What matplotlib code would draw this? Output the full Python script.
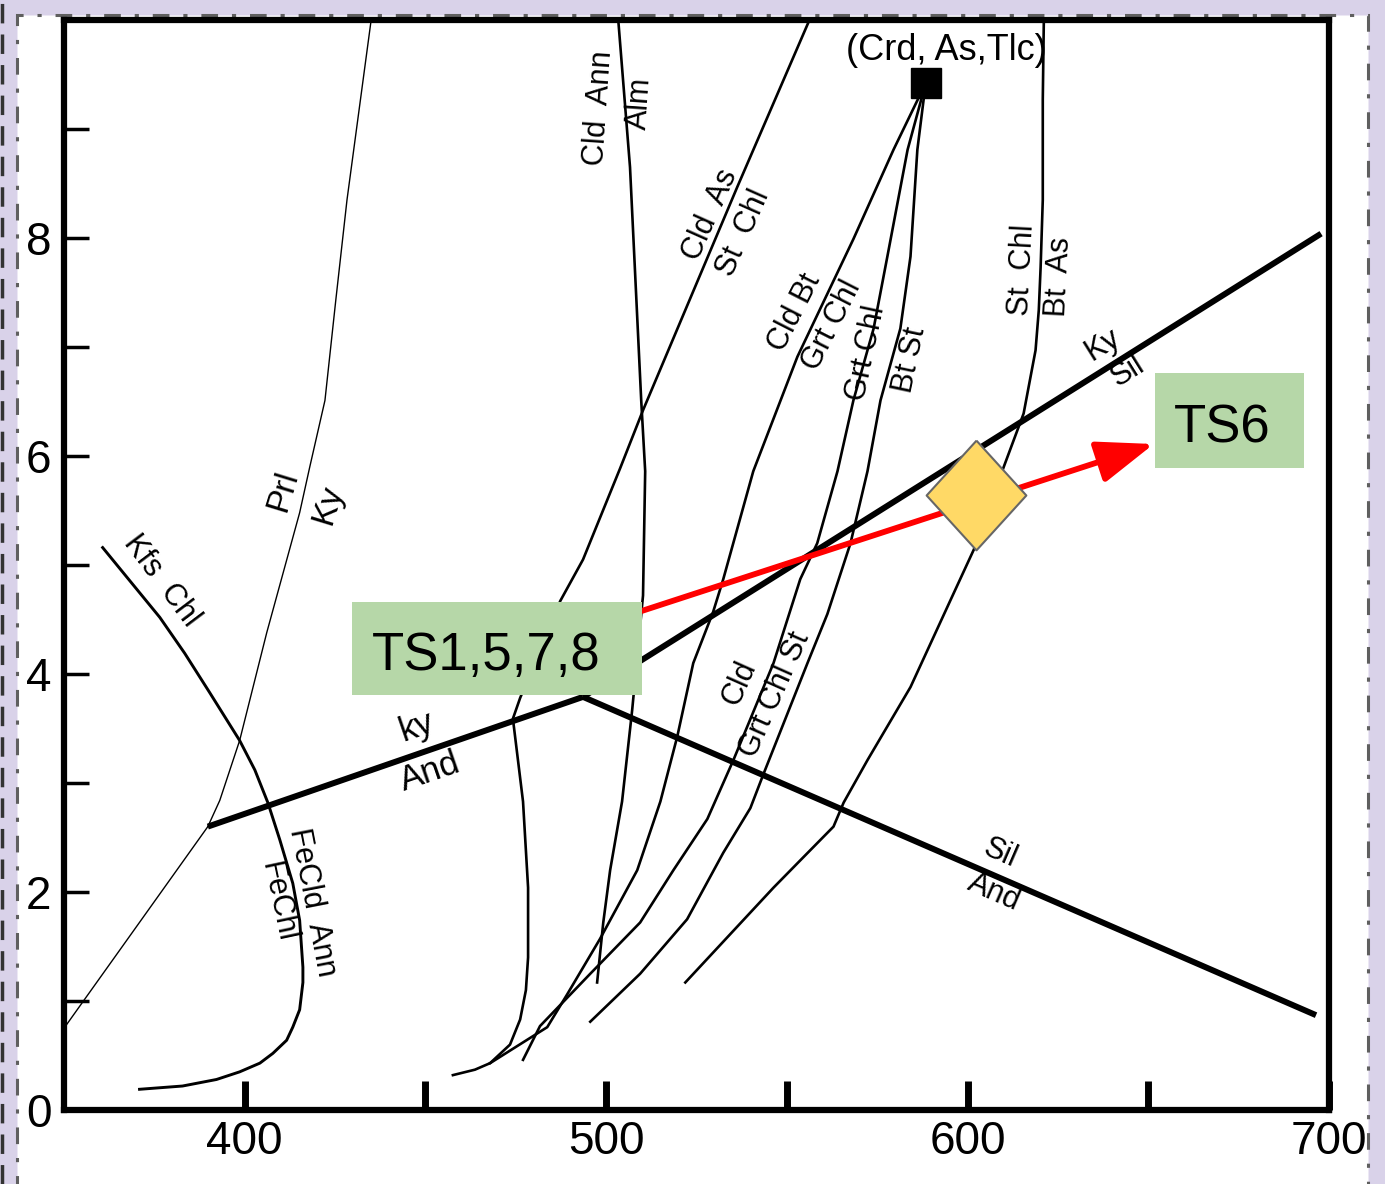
import numpy as np
import matplotlib.pyplot as plt
from matplotlib.patches import Rectangle
from matplotlib.lines import Line2D

plt.rcParams['font.family'] = ['Liberation Sans', 'DejaVu Sans']
plt.rcParams['lines.scale_dashes'] = False

# ---- reaction curves, T (deg C) vs P (kbar) ----
# Al2SiO5 triple point system
ky_and_T = [389.8, 493.6]
ky_and_P = [2.60, 3.79]
ky_sil_T = [493.6, 697.8]
ky_sil_P = [3.79, 8.04]
sil_and_T = [493.6, 696.4]
sil_and_P = [3.79, 0.87]

# pyrophyllite breakdown (thin)
prl_ky_T = [389.8, 393.1, 398.6, 406.1, 415.2, 418.0, 422.2, 425.2, 428.3, 434.9]
prl_ky_P = [2.60, 2.84, 3.39, 4.38, 5.48, 5.90, 6.51, 7.43, 8.35, 9.98]
prl_and_T = [350.0, 389.8]
prl_and_P = [0.75, 2.60]

# Kfs Chl / FeCld Ann / FeChl
kfs_T = [360.7, 368.1, 376.5, 383.4, 390.3, 398.6, 402.8, 406.4, 409.7, 413.3, 415.2, 416.1,
         416.1, 415.2, 413.3, 411.6, 407.8, 404.2, 398.6, 392.2, 382.8, 370.9]
kfs_P = [5.16, 4.86, 4.52, 4.19, 3.83, 3.39, 3.12, 2.82, 2.48, 2.08, 1.74, 1.31,
         1.17, 0.92, 0.76, 0.64, 0.52, 0.43, 0.35, 0.28, 0.22, 0.19]

# Cld Ann / Alm
cld_ann_T = [503.3, 506.6, 509.7, 510.8, 510.2, 507.2, 504.4, 501.1, 499.2, 497.5]
cld_ann_P = [10.02, 8.65, 6.51, 5.86, 4.72, 3.67, 2.83, 2.20, 1.72, 1.17]

# Cld As / St Chl
cld_as_T = [556.5, 536.3, 510.2, 503.9, 493.6, 487.3, 476.2, 474.2, 477.0, 478.4, 478.4, 477.8,
            476.2, 473.4, 467.9, 463.7, 457.6]
cld_as_P = [10.02, 8.47, 6.42, 5.89, 5.05, 4.67, 3.78, 3.59, 2.83, 2.04, 1.40, 1.10,
            0.83, 0.60, 0.43, 0.37, 0.32]

# invariant point (Crd, As, Tlc)
inv_T = 588.4
inv_P = 9.42

# three curves leaving the invariant point
cld_bt_T = [588.4, 579.5, 568.4, 552.9, 540.7, 532.4, 529.6, 524.1, 519.7, 515.0, 508.6, 498.3, 489.2, 483.7, 467.9]
cld_bt_P = [9.42, 8.81, 7.99, 6.91, 5.86, 4.87, 4.57, 4.10, 3.43, 2.83, 2.20, 1.57, 1.06, 0.76, 0.43]

grt_chl_T = [588.4, 583.4, 577.8, 574.0, 568.4, 564.0, 558.4, 553.7, 546.3, 535.2, 528.0, 518.6, 509.4, 495.6, 481.7, 477.0]
grt_chl_P = [9.42, 8.81, 7.83, 7.17, 6.51, 5.86, 5.20, 4.87, 4.10, 3.21, 2.67, 2.20, 1.72, 1.25, 0.77, 0.46]

bt_st_T = [588.4, 586.1, 584.2, 581.4, 575.9, 572.3, 567.6, 561.2, 555.7, 543.5, 539.9, 532.4, 522.4, 509.4, 495.6]
bt_st_P = [9.42, 8.81, 7.83, 7.17, 6.51, 5.86, 5.20, 4.55, 4.10, 3.08, 2.77, 2.36, 1.75, 1.25, 0.81]

# St Chl / Bt As
st_chl_T = [621.1, 620.8, 620.8, 620.2, 619.7, 618.8, 615.5, 610.0, 601.7, 595.3, 584.2, 572.3, 565.7, 562.9, 553.7, 546.3, 521.9]
st_chl_P = [10.02, 9.27, 8.35, 7.73, 7.34, 6.97, 6.39, 5.90, 5.14, 4.68, 3.88, 3.21, 2.82, 2.60, 2.29, 2.04, 1.17]

# sample path
path_start = (510.0, 4.58)
path_end = (651.5, 6.11)
ts6_T = 602.2
ts6_P = 5.64

# axis ticks
xtick_vals = [400, 450, 500, 550, 600, 650, 700]
xtick_labels = ['400', '', '500', '', '600', '', '700']
ytick_vals = list(range(0, 10))
ytick_labels = ['0', '', '2', '', '4', '', '6', '', '8', '']

# reaction labels: text, T, P, rotation, size
labels = [
    ('Prl', 410.5, 5.68, 73, 24), ('Ky', 423.0, 5.55, 73, 24),
    ('Kfs  Chl', 377.0, 4.86, -53, 22),
    ('FeCld  Ann', 418.8, 1.90, -79, 22), ('FeChl', 409.1, 1.91, -78, 22),
    ('ky', 447.6, 3.52, 19, 25), ('And', 451.2, 3.10, 19, 25),
    ('Cld  Ann', 498.1, 9.19, 86, 22), ('Alm', 509.4, 9.24, 86, 22),
    ('Cld  As', 528.8, 8.21, 66, 22), ('St  Chl', 537.9, 8.05, 66, 22),
    ('Cld Bt', 552.1, 7.32, 63, 22), ('Grt Chl', 562.3, 7.20, 63, 22),
    ('Grt Chl', 572.0, 6.94, 78, 22), ('Bt St', 584.2, 6.88, 78, 22),
    ('St  Chl', 615.2, 7.71, 87, 22), ('Bt  As', 625.2, 7.64, 87, 22),
    ('Ky', 637.4, 7.02, 32, 22), ('Sil', 644.3, 6.78, 32, 22),
    ('Sil', 608.9, 2.35, -23.5, 22), ('And', 607.2, 2.00, -23.5, 22),
    ('Cld', 536.8, 3.92, 66, 22), ('Grt Chl St', 546.8, 3.81, 66, 22),
]

fig = plt.figure(figsize=(13.85, 11.84), dpi=100, facecolor='#d9d2e9')

# white panel with dash-dot border
fig.patches.append(Rectangle((0.0123, -0.02), 0.9754, 1.0073, transform=fig.transFigure,
                             facecolor='white', edgecolor='#5f5f5f', lw=2.2,
                             linestyle=(0, (12, 10, 3, 10)), zorder=-1))
fig.lines.append(Line2D([0.0012, 0.0012], [0, 1], transform=fig.transFigure,
                        color='#333333', lw=2.5, linestyle=(0, (14, 8))))

ax = fig.add_axes([0.0462, 0.0625, 0.9134, 0.9206])

thick = dict(color='black', lw=4.3, solid_capstyle='butt', zorder=3)
thin = dict(color='black', lw=1.9, zorder=2, solid_joinstyle='round')
ax.plot(ky_and_T, ky_and_P, **thick)
ax.plot(ky_sil_T, ky_sil_P, **thick)
ax.plot(sil_and_T, sil_and_P, **thick)
ax.plot(prl_ky_T, prl_ky_P, color='black', lw=1.0, zorder=2)
ax.plot(prl_and_T, prl_and_P, color='black', lw=1.0, zorder=2)
ax.plot(kfs_T, kfs_P, color='black', lw=2.1, zorder=2, solid_joinstyle='round')
for t, p in [(cld_ann_T, cld_ann_P), (cld_as_T, cld_as_P), (cld_bt_T, cld_bt_P),
             (grt_chl_T, grt_chl_P), (bt_st_T, bt_st_P), (st_chl_T, st_chl_P)]:
    ax.plot(t, p, **thin)

ax.plot(inv_T, inv_P, marker='s', ms=22, color='black', zorder=5)
ax.text(594.2, 9.72, '(Crd, As,Tlc)', fontsize=26, ha='center', va='center', zorder=6)

for s, t, p, r, fs in labels:
    ax.text(t, p, s, fontsize=fs, rotation=r, rotation_mode='anchor',
            ha='center', va='center', zorder=6)

# red P-T path arrow
ax.annotate('', xy=path_end, xytext=path_start,
            arrowprops=dict(arrowstyle='-|>,head_length=35,head_width=13', mutation_scale=1,
                            color='#ff0000', lw=4.2, shrinkA=0, shrinkB=0),
            zorder=4)

ax.plot(ts6_T, ts6_P, marker=[(0, 1.1), (1, 0), (0, -1.1), (-1, 0), (0, 1.1)], ms=79,
        mfc='#ffd966', mec='#666666', mew=1.5, zorder=5)

# sample boxes
ax.add_patch(Rectangle((429.6, 3.81), 80.4, 0.85, facecolor='#b6d7a8', edgecolor='none', zorder=5))
ax.text(435.2, 4.04, 'TS1,5,7,8', fontsize=38, ha='left', va='baseline', zorder=6)
ax.add_patch(Rectangle((651.8, 5.89), 41.3, 0.87, facecolor='#b6d7a8', edgecolor='none', zorder=5))
ax.text(657.1, 6.12, 'TS6', fontsize=38, ha='left', va='baseline', zorder=6)

ax.set_xlim(350, 700)
ax.set_ylim(0, 10)
ax.set_xticks(xtick_vals)
ax.set_xticklabels(xtick_labels)
ax.set_yticks(ytick_vals)
ax.set_yticklabels(ytick_labels)
ax.tick_params(axis='x', direction='in', length=21, width=5, pad=7, labelsize=33)
ax.tick_params(axis='y', direction='in', length=18, width=2.5, pad=9, labelsize=33)
for sp in ax.spines.values():
    sp.set_linewidth(4.5)

fig.savefig('out.png', dpi=100, facecolor=fig.get_facecolor())
